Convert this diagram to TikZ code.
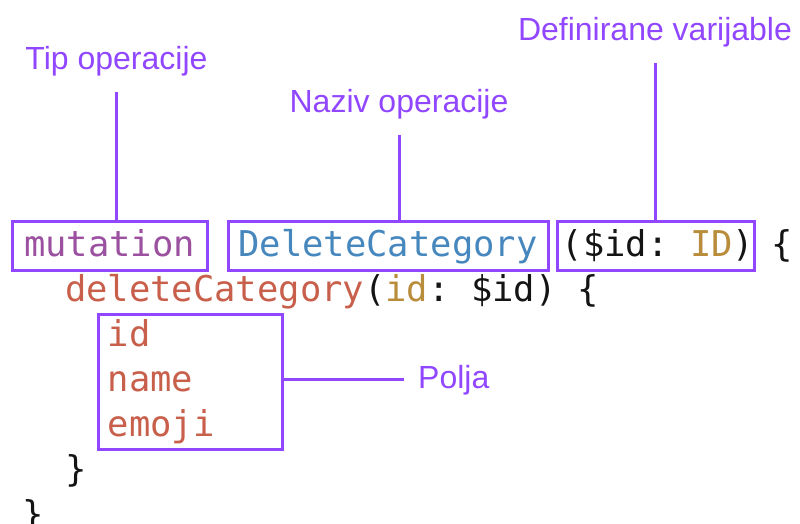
\documentclass[tikz,border=0pt]{standalone}
\usepackage{fontspec}
\setmainfont{Liberation Sans}
\setmonofont{DejaVu Sans Mono}
\definecolor{violet}{RGB}{145,70,255}
\definecolor{kwpurple}{RGB}{155,80,160}
\definecolor{opblue}{RGB}{70,135,190}
\definecolor{fieldred}{RGB}{200,95,75}
\definecolor{typegold}{RGB}{185,140,60}
\definecolor{ink}{RGB}{20,20,20}

\tikzset{
 code/.style={font=\ttfamily\fontsize{35.5}{45}\selectfont, text=ink, inner sep=0pt,
  anchor=base west, text height=26pt, text depth=5pt},
 codebox/.style={code, anchor=base, draw=violet, line width=3pt, inner ysep=9pt},
 tag/.style={font=\fontsize{32}{38}\selectfont, text=violet, inner sep=0pt, anchor=base},
 leader/.style={draw=violet, line width=3pt, shorten <=15pt}
}

\begin{document}
\begin{tikzpicture}[x=1pt,y=-1pt]
 \useasboundingbox (0,0) rectangle (800,524);
 \clip (0,0) rectangle (800,524);
 % first line, three boxed parts
 \node[codebox, text=kwpurple, minimum width=195pt] (mutbox) at (109.5,256) {mutation};
 \node[codebox, text=opblue, minimum width=320pt] (namebox) at (388,256) {DeleteCategory};
 \node[codebox, minimum width=196pt] (varbox) at (656,256) {\hspace{4pt}(\$id: \textcolor{typegold}{ID})};
 \node[code] (open1) at (771,256) {\{};
 \node[code] (call) at (64.8,301)
  {\textcolor{fieldred}{deleteCategory}(\textcolor{typegold}{id}: \$id) \{};
 \foreach \f [count=\i] in {id,name,emoji}
  \node[code, text=fieldred] (f\i) at (107.6,301+45*\i) {\f};
 \node[draw=violet, line width=3pt, minimum width=184pt, minimum height=135pt] (fields) at (190,381.5) {};
 \node[code] (close2) at (64.8,481) {\}};
 \node[code] (close1) at (22,526) {\}};
 % labels
 \node[tag] (tip) at (116.5,70) {Tip operacije};
 \node[tag] (naziv) at (399,113) {Naziv operacije};
 \node[tag] (defvar) at (655,41) {Definirane varijable};
 \node[tag, anchor=base west] (polja) at (418,388) {Polja};
 \draw[leader] (tip.south) -- (tip.south |- mutbox.north);
 \draw[leader] (naziv.south) -- (naziv.south |- namebox.north);
 \draw[leader] (defvar.south) -- (defvar.south |- varbox.north);
 \draw[leader, shorten <=0pt, shorten >=14pt] (fields.east |- polja.west) -- (polja.west);
\end{tikzpicture}
\end{document}
